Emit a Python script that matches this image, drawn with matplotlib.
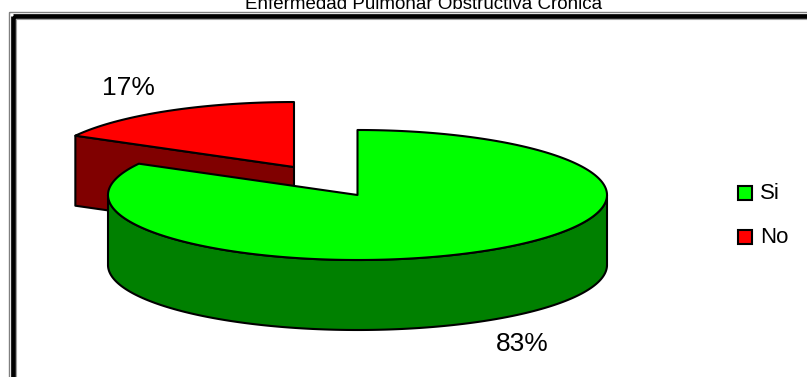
import numpy as np
import matplotlib
matplotlib.use("Agg")
import matplotlib.pyplot as plt
from matplotlib.patches import Polygon, Rectangle

# Chart content
title = "Enfermedad Pulmonar Obstructiva Crónica"
categories = ["Si", "No"]
values = [83, 17]
explode = [0.0, 0.5]
top_colors = ["#00FF00", "#FF0000"]
side_colors = ["#008000", "#800000"]

W, H = 807, 377
plt.rcParams["font.family"] = ["Liberation Sans", "DejaVu Sans"]

fig = plt.figure(figsize=(W / 100, H / 100), dpi=100)
ax = fig.add_axes([0, 0, 1, 1])
ax.set_xlim(0, W)
ax.set_ylim(H, 0)
ax.axis("off")

# Double frame around the chart area
ax.add_patch(Rectangle((8.5, 11.5), 900, 500, fill=False, ec="#808080", lw=1.0))
ax.add_patch(Rectangle((13, 16), 900, 500, fill=False, ec="black", lw=3.4))
ax.add_patch(Rectangle((15.5, 18.5), 900, 500, fill=False, ec="#a0a0a0", lw=0.8))

ax.text(424, 9, title, ha="center", va="baseline", fontsize=13.5, color="black")

# 3D pie geometry (projected ellipse with extruded side)
cx, cy, rx, ry, depth = 357.5, 195.0, 249.5, 65.0, 70.0
lw = 1.5

def rim(ox, oy, t, dz=0.0):
    return np.column_stack([ox + rx * np.cos(t), oy - ry * np.sin(t) + dz])

fracs = np.array(values, dtype=float) / np.sum(values)
starts = 90.0 - 360.0 * np.concatenate([[0.0], np.cumsum(fracs)[:-1]])
ends = starts - 360.0 * fracs

slices = []
for i in range(len(values)):
    a0, a1 = np.radians(starts[i]), np.radians(ends[i])
    m = 0.5 * (a0 + a1)
    ox = cx + explode[i] * rx * np.cos(m)
    oy = cy - explode[i] * ry * np.sin(m)
    slices.append((oy, i, a0, a1, m, ox))

# back slices first
for oy, i, a0, a1, m, ox in sorted(slices):
    ec = "black"
    # radial faces facing the viewer
    for a, vis in ((a0, np.cos(a0) < -1e-9), (a1, np.cos(a1) > 1e-9)):
        if vis:
            p = rim(ox, oy, np.array([a]))[0]
            face = [(ox, oy), tuple(p), (p[0], p[1] + depth), (ox, oy + depth)]
            ax.add_patch(Polygon(face, closed=True, fc=side_colors[i], ec=ec,
                                 lw=lw, joinstyle="round"))
    # outer curved wall on the front half
    t = np.linspace(a0, a1, 600)
    front = np.sin(t) < 0
    if front.any():
        idx = np.where(front)[0]
        groups = np.split(idx, np.where(np.diff(idx) > 1)[0] + 1)
        for g in groups:
            tt = t[g]
            topp = rim(ox, oy, tt)
            bot = rim(ox, oy, tt, depth)[::-1]
            ax.add_patch(Polygon(np.vstack([topp, bot]), closed=True,
                                 fc=side_colors[i], ec=ec, lw=lw,
                                 joinstyle="round"))
    # top face
    topface = np.vstack([[ox, oy], rim(ox, oy, t)])
    ax.add_patch(Polygon(topface, closed=True, fc=top_colors[i], ec=ec,
                         lw=lw, joinstyle="round"))

# percentage labels
k = 1.3
for oy, i, a0, a1, m, ox in slices:
    s = np.sin(m)
    lx = ox + k * rx * np.cos(m)
    ly = oy - k * ry * s - 6 * np.sign(s) + (depth if s < 0 else 0.0)
    ax.text(lx, ly, f"{values[i]}%", ha="center", va="center",
            fontsize=19, color="black")

# legend
for j, (lab, col) in enumerate(zip(categories, top_colors)):
    y0 = 186 + j * 44
    ax.add_patch(Rectangle((737.5, y0), 14, 14, fc=col, ec="black", lw=1.5))
    ax.text(760, y0 + 7.5, lab, ha="left", va="center", fontsize=16,
            color="black")

fig.savefig("out.png", dpi=100)
